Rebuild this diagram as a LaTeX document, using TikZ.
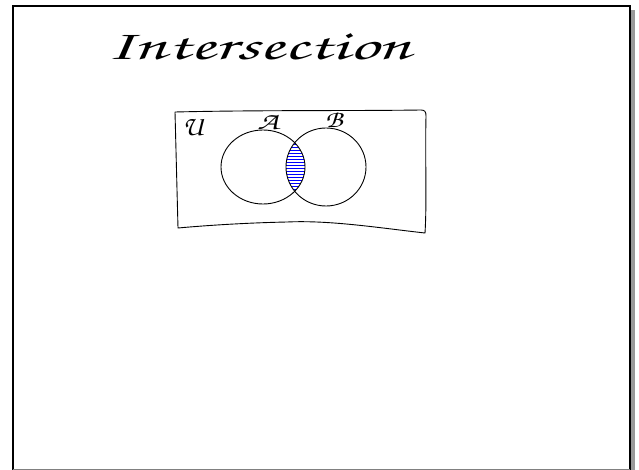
\documentclass[tikz,border=0pt]{standalone}
\usepackage[T1]{fontenc}
\newcommand\handfont{\fontencoding{T1}\fontfamily{pzc}\fontseries{mb}\fontshape{it}\selectfont}
\tikzset{
  ink/.style={draw=black, line width=0.9pt, line join=round, line cap=round},
  hatchline/.style={draw=blue, line width=0.8pt},
  handtext/.style={inner sep=0pt, font=\handfont}
}
\begin{document}
\begin{tikzpicture}[x=1pt,y=-1pt]
\useasboundingbox (0,0) rectangle (639,470);
% page frame with shadow
\fill[gray!80] (16,10) rectangle (635,474);
\filldraw[fill=white, draw=black, line width=2pt] (12.5,6) rectangle (630,472);
\draw[gray, line width=0.8pt] (12.5,469.5) -- (630,469.5);
% title
\node[handtext, anchor=base west, xscale=1.72, transform shape] (title) at (106,60) {\fontsize{42}{42}\selectfont Intersection};
% universe box
\draw[ink] (175,112) .. controls (260,110) and (350,111) .. (421,110)
  .. controls (425,110) and (426,112) .. (426,116)
  .. controls (425,160) and (427,200) .. (425,233)
  .. controls (380,228) and (330,220) .. (287,222)
  .. controls (240,223) and (200,226) .. (178,228)
  .. controls (177,190) and (176,150) .. (175,112);
% hatched intersection
\begin{scope}
  \clip (263,167) ellipse (42 and 37);
  \clip (326,167) ellipse (40 and 39);
  \foreach \yy in {141,144,...,198} \draw[hatchline] (280,\yy) -- (312,\yy);
\end{scope}
% circles
\draw[ink] (263,167) ellipse (42 and 37);
\draw[ink] (326,167) ellipse (40 and 39);
% labels
\node[handtext] (U) at (193,127) {\fontsize{28}{28}\selectfont U};
\node[handtext, xscale=1.4, transform shape] (A) at (268,122) {\fontsize{24}{24}\selectfont A};
\node[handtext, xscale=1.2, transform shape] (B) at (334,120) {\fontsize{24}{24}\selectfont B};
\end{tikzpicture}
\end{document}
